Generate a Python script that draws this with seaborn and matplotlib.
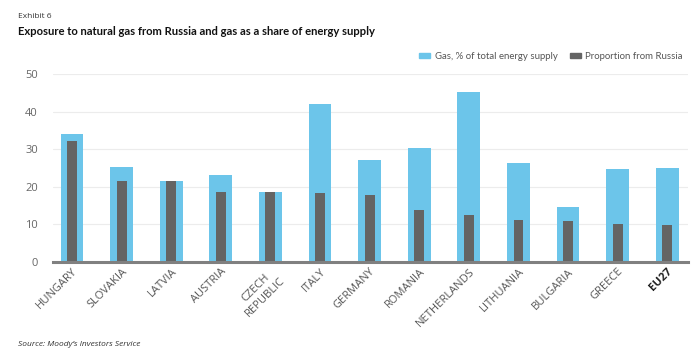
import pandas as pd
import matplotlib.pyplot as plt
import seaborn as sns
from matplotlib.patches import Patch

countries = ['HUNGARY', 'SLOVAKIA', 'LATVIA', 'AUSTRIA', 'CZECH\nREPUBLIC', 'ITALY',
             'GERMANY', 'ROMANIA', 'NETHERLANDS', 'LITHUANIA', 'BULGARIA', 'GREECE', 'EU27']
gas_share = [34.0, 25.2, 21.5, 23.2, 18.5, 41.9, 27.0, 30.4, 45.3, 26.2, 14.6, 24.8, 25.1]
russia_share = [32.3, 21.6, 21.5, 18.7, 18.5, 18.4, 17.8, 13.9, 12.4, 11.2, 11.0, 10.0, 9.9]

gas_color = '#6cc5ea'
russia_color = '#646464'
text_grey = '#555555'

df = pd.DataFrame({'Country': countries, 'Gas': gas_share, 'Russia': russia_share})

sns.set_style('white')
plt.rcParams['font.family'] = ['Open Sans', 'DejaVu Sans']

fig = plt.figure(figsize=(7, 3.57), dpi=100)
ax = fig.add_axes([0.076, 0.266, 0.907, 0.527])

sns.barplot(data=df, x='Country', y='Gas', color=gas_color, width=0.46,
            saturation=1, linewidth=0, ax=ax, zorder=2)
sns.barplot(data=df, x='Country', y='Russia', color=russia_color, width=0.2,
            saturation=1, linewidth=0, ax=ax, zorder=3)

ax.set_ylim(0, 50)
ax.set_xlim(-0.38, 12.42)
ax.set_yticks(range(0, 51, 10))
ax.yaxis.grid(True, color='#ececec', linewidth=0.8, zorder=0)
ax.set_axisbelow(True)
for s in ['top', 'right', 'left']:
    ax.spines[s].set_visible(False)
ax.spines['bottom'].set_color('#808080')
ax.spines['bottom'].set_linewidth(2.2)
ax.spines['bottom'].set_zorder(4)
ax.set_xlabel('')
ax.set_ylabel('')
ax.tick_params(axis='y', length=0, labelsize=8, labelcolor='#666666', pad=11)
ax.tick_params(axis='x', length=0, labelsize=8, labelcolor=text_grey, pad=3)
plt.setp(ax.get_xticklabels(), rotation=45, ha='right', rotation_mode='anchor',
         multialignment='center')
last = ax.get_xticklabels()[-1]
last.set_fontweight('bold')
last.set_color('#222222')

handles = [Patch(color=gas_color, label='Gas, % of total energy supply'),
           Patch(color=russia_color, label='Proportion from Russia')]
fig.legend(handles=handles, loc='upper right', bbox_to_anchor=(0.988, 0.878), ncol=2,
           frameon=False, handlelength=1.1, handleheight=0.35,
           handletextpad=0.5, columnspacing=1.3, labelcolor=text_grey,
           prop={'family': 'Lato', 'size': 6.9})

fig.text(0.026, 0.955, 'Exhibit 6', fontsize=6, color='#333333', va='center')
fig.text(0.026, 0.912, 'Exposure to natural gas from Russia and gas as a share of energy supply',
         fontsize=8.1, fontweight='bold', family='Lato', color='#111111', va='center')
fig.text(0.026, 0.036, 'Source: Moody\u2019s Investors Service', fontsize=6,
         style='italic', color='#333333', va='center')

fig.savefig('out.png', dpi=100)
